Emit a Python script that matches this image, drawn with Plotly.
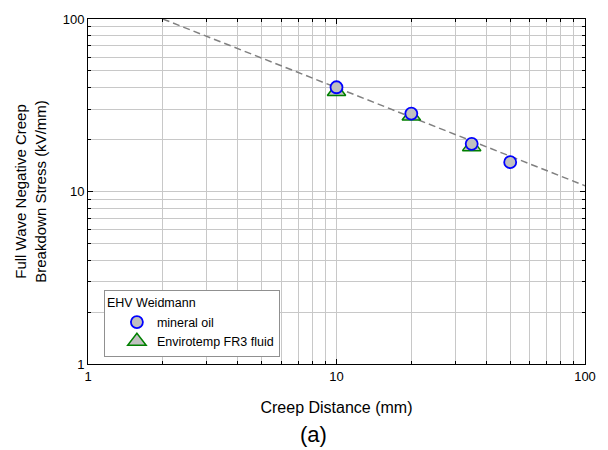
import plotly.graph_objects as go

# Data
oil_x = [10, 20, 35, 50]
oil_y = [40.2, 28.3, 18.9, 14.8]
fr3_x = [10, 20, 35]
fr3_y = [38, 27.4, 18.2]
fit_x = [2, 100]
fit_y = [100, 10.8]

font = "Liberation Sans, Arial, sans-serif"
grid = "#c8c8c8"

fig = go.Figure()
fig.add_trace(go.Scatter(x=fit_x, y=fit_y, mode="lines", showlegend=False,
                         line=dict(color="#808080", width=1.5, dash="7px,4px")))
fig.add_trace(go.Scatter(x=fr3_x, y=fr3_y, mode="markers", name="Envirotemp FR3 fluid",
                         marker=dict(symbol="triangle-up", size=16, color="#c0c0c0",
                                     line=dict(color="#008000", width=1.5))))
fig.add_trace(go.Scatter(x=oil_x, y=oil_y, mode="markers", name="mineral oil",
                         marker=dict(symbol="circle", size=12, color="#c0c0c0",
                                     line=dict(color="#0000ff", width=1.8))))

axis_common = dict(
    type="log", dtick=1, showline=True, linecolor="black", linewidth=1, mirror="ticks",
    ticks="inside", ticklen=5, tickcolor="black", showgrid=True, gridcolor=grid, gridwidth=1,
    zeroline=False, tickfont=dict(family=font, size=13, color="black"),
    minor=dict(dtick="D1", showgrid=True, gridcolor=grid, gridwidth=1,
               ticks="inside", ticklen=3, tickcolor="black"),
)

fig.update_layout(
    width=608, height=450,
    margin=dict(l=88, r=21, t=14, b=86),
    paper_bgcolor="white", plot_bgcolor="white",
    font=dict(family=font, size=13, color="black"),
    xaxis=dict(range=[0, 2], **axis_common,
               title=dict(text="Creep Distance (mm)", font=dict(family=font, size=16), standoff=19)),
    yaxis=dict(range=[0, 2], **axis_common,
               title=dict(text="Full Wave Negative Creep<br>Breakdown Stress (kV/mm)",
                          font=dict(family=font, size=15), standoff=12)),
    legend=dict(title=dict(text="EHV Weidmann", font=dict(family=font, size=12.5)),
                font=dict(family=font, size=12.5), x=0.032, y=0.214, xanchor="left", yanchor="top",
                bgcolor="white", bordercolor="#909090", borderwidth=1, traceorder="reversed",
                itemsizing="trace", indentation=12),
    annotations=[dict(text="(a)", xref="paper", yref="paper",
                      x=(314 - 88) / 499, y=(364 - 436) / 350, xanchor="center", yanchor="middle",
                      showarrow=False, font=dict(family=font, size=22))],
)

fig.write_html("out.html")
